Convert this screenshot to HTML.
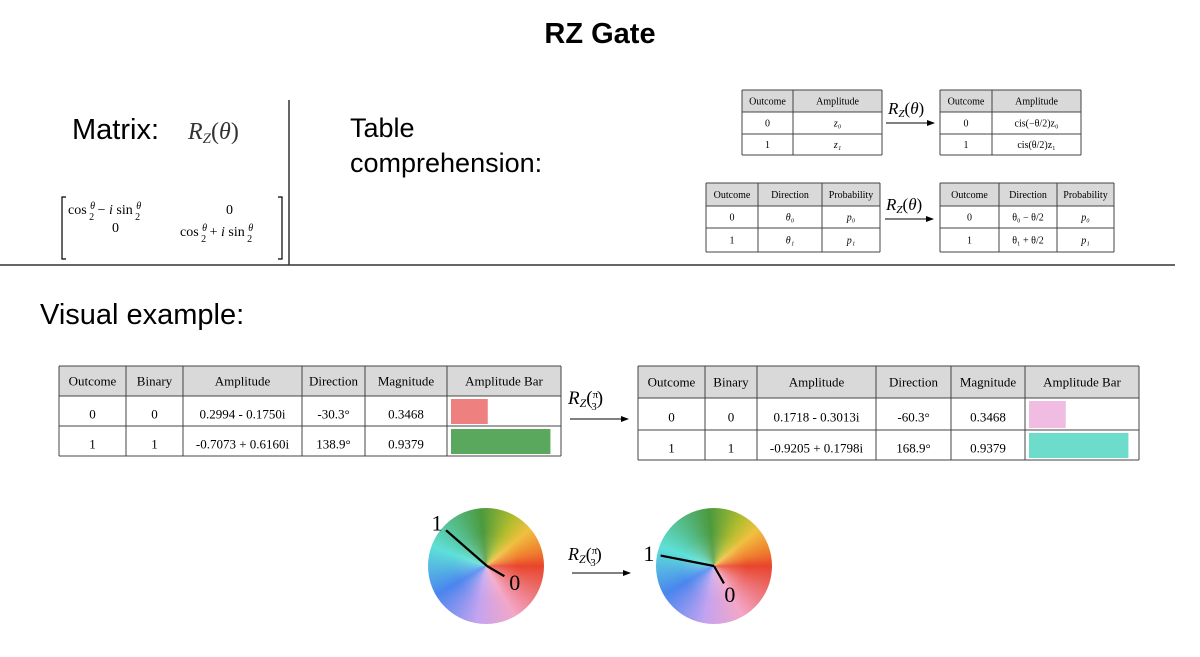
<!DOCTYPE html>
<html><head><meta charset="utf-8"><style>
body{margin:0;background:#fff;}
svg{display:block;font-family:"Liberation Serif",serif;}
.sans{font-family:"Liberation Sans",sans-serif;}
</style></head><body>
<svg id="s" width="1200" height="657" viewBox="0 0 1200 657">
<defs>
<marker id="ah" markerWidth="8" markerHeight="6" refX="7" refY="3" orient="auto"><path d="M0,0 L8,3 L0,6 z" fill="#000"/></marker>
</defs>
<text class="sans" x="600" y="43" font-size="29" font-weight="bold" text-anchor="middle">RZ Gate</text>
<text class="sans" x="72" y="139" font-size="29">Matrix:</text>
<text x="188" y="139" font-size="24" font-style="italic" fill="#333">R<tspan font-size="15" dy="4">Z</tspan><tspan dy="-4" font-style="normal">(</tspan>θ<tspan font-style="normal">)</tspan></text>
<g font-size="14">
<path d="M66,197 h-4 v62 h4" fill="none" stroke="#000" stroke-width="1.2"/>
<path d="M278,197 h4 v62 h-4" fill="none" stroke="#000" stroke-width="1.2"/>
<text x="68" y="214">cos <tspan font-size="10" font-style="italic" dy="-5">θ</tspan><tspan font-size="10" dx="-6" dy="11">2</tspan><tspan dy="-6"> − </tspan><tspan font-style="italic">i</tspan> sin <tspan font-size="10" font-style="italic" dy="-5">θ</tspan><tspan font-size="10" dx="-6" dy="11">2</tspan></text>
<text x="112" y="232">0</text>
<text x="226" y="214">0</text>
<text x="180" y="236">cos <tspan font-size="10" font-style="italic" dy="-5">θ</tspan><tspan font-size="10" dx="-6" dy="11">2</tspan><tspan dy="-6"> + </tspan><tspan font-style="italic">i</tspan> sin <tspan font-size="10" font-style="italic" dy="-5">θ</tspan><tspan font-size="10" dx="-6" dy="11">2</tspan></text>
</g>
<line x1="289" y1="100" x2="289" y2="265" stroke="#333" stroke-width="1.5"/>
<line x1="0" y1="265" x2="1175" y2="265" stroke="#333" stroke-width="1.5"/>
<text class="sans" x="350" y="137" font-size="27">Table</text>
<text class="sans" x="350" y="172" font-size="27">comprehension:</text>
<text class="sans" x="40" y="324" font-size="29">Visual example:</text>
<g id="tables"></g>
<g id="arrows" font-size="17" font-style="italic">
<g><text x="888" y="114">R<tspan font-size="11" dy="3">Z</tspan><tspan dy="-3" font-style="normal">(</tspan>θ<tspan font-style="normal">)</tspan></text><line x1="886" y1="123" x2="934" y2="123" stroke="#000" marker-end="url(#ah)"/></g>
<g><text x="886" y="210">R<tspan font-size="11" dy="3">Z</tspan><tspan dy="-3" font-style="normal">(</tspan>θ<tspan font-style="normal">)</tspan></text><line x1="885" y1="219" x2="933" y2="219" stroke="#000" marker-end="url(#ah)"/></g>
<g><text x="568" y="404" font-size="19">R<tspan font-size="12" dy="3">Z</tspan><tspan dy="-3" font-style="normal">(</tspan><tspan font-size="11" font-style="normal" dy="-6">π</tspan><tspan font-size="11" font-style="normal" dx="-7" dy="12">3</tspan><tspan dy="-6" font-style="normal">)</tspan></text><line x1="570" y1="419" x2="628" y2="419" stroke="#000" marker-end="url(#ah)"/></g>
<g><text x="568" y="560" font-size="18">R<tspan font-size="12" dy="3">Z</tspan><tspan dy="-3" font-style="normal">(</tspan><tspan font-size="11" font-style="normal" dy="-6">π</tspan><tspan font-size="11" font-style="normal" dx="-7" dy="12">3</tspan><tspan dy="-6" font-style="normal">)</tspan></text><line x1="572" y1="573" x2="630" y2="573" stroke="#000" marker-end="url(#ah)"/></g>
</g>
<foreignObject x="428" y="508" width="118" height="118"><div xmlns="http://www.w3.org/1999/xhtml" style="width:116px;height:116px;border-radius:50%;background:radial-gradient(rgba(255,255,255,.2),rgba(255,255,255,0) 40%),conic-gradient(from 90deg,#e8452c,#f3a7c8 60deg,#c3a3f0 100deg,#4a85ee 150deg,#5ee0d8 200deg,#4c9a3e 265deg,#b3bd2e 300deg,#f0c040 320deg,#ef7d2e 345deg,#e8452c)"></div></foreignObject>
<foreignObject x="656" y="508" width="118" height="118"><div xmlns="http://www.w3.org/1999/xhtml" style="width:116px;height:116px;border-radius:50%;background:radial-gradient(rgba(255,255,255,.2),rgba(255,255,255,0) 40%),conic-gradient(from 90deg,#e8452c,#f3a7c8 60deg,#c3a3f0 100deg,#4a85ee 150deg,#5ee0d8 200deg,#4c9a3e 265deg,#b3bd2e 300deg,#f0c040 320deg,#ef7d2e 345deg,#e8452c)"></div></foreignObject>
<g id="needles" font-size="22"></g>
</svg>
<script>
const outcomes=["0","1"];
const binary=["0","1"];
const ampBefore=["0.2994 - 0.1750i","-0.7073 + 0.6160i"];
const ampAfter=["0.1718 - 0.3013i","-0.9205 + 0.1798i"];
const dirBefore=[-30.3,138.9];
const dirAfter=[-60.3,168.9];
const magnitudes=[0.3468,0.9379];
const barColorsBefore=["#ef8080","#59a85e"];
const barColorsAfter=["#f0bce2","#6ddccb"];
const NS="http://www.w3.org/2000/svg";
const T=document.getElementById('tables');
function el(tag,attrs,parent,txt){const e=document.createElementNS(NS,tag);for(const k in attrs)e.setAttribute(k,attrs[k]);if(txt!==undefined)e.textContent=txt;parent.appendChild(e);return e;}
function table(name,xs,ys,header,rows,fs,italicCols){
  const g=el('g',{},T);
  
  
  const x0=xs[0],x1=xs[xs.length-1];
  el('rect',{x:x0,y:ys[0],width:x1-x0,height:ys[1]-ys[0],fill:'#d9d9d9'},g);
  ys.forEach(y=>el('line',{x1:x0,x2:x1,y1:y,y2:y,stroke:'#444','stroke-width':1},g));
  xs.forEach(x=>el('line',{x1:x,x2:x,y1:ys[0],y2:ys[ys.length-1],stroke:'#444','stroke-width':1},g));
  header.forEach((h,i)=>{const t=el('text',{x:(xs[i]+xs[i+1])/2,y:(ys[0]+ys[1])/2+fs*0.35,'text-anchor':'middle','font-size':fs},g,h);
    
    });
  rows.forEach((r,ri)=>r.forEach((c,i)=>{if(c===null)return;const t=el('text',{x:(xs[i]+xs[i+1])/2,y:(ys[ri+1]+ys[ri+2])/2+fs*0.35+(fs>12?3:0),'text-anchor':'middle','font-size':fs,'font-style':(italicCols||[]).includes(i)?'italic':'normal'},g,c);
    
    }));
  return g;
}
const fmt=d=>d.toFixed(1)+'°';
function exTable(name,xs,ys,amps,dirs,colors){
  const rows=outcomes.map((o,i)=>[o,binary[i],amps[i],fmt(dirs[i]),magnitudes[i].toFixed(4),null]);
  const g=table(name,xs,ys,["Outcome","Binary","Amplitude","Direction","Magnitude","Amplitude Bar"],rows,13);
  const bx=xs[5]+4,bw=(xs[6]-xs[5]-8);
  magnitudes.forEach((m,i)=>{const r=el('rect',{x:bx,y:ys[i+1]+3,width:m*bw,height:ys[i+2]-ys[i+1]-5,fill:colors[i]},g);
    
    });
}
exTable('example-table-before',[59,126,183,302,365,447,561],[366,396,426,456],ampBefore,dirBefore,barColorsBefore);
exTable('example-table-after',[638,705,757,876,951,1025,1139],[366,398,430,460],ampAfter,dirAfter,barColorsAfter);
table('amplitude-table-before',[742,793,882],[90,112,134,155],["Outcome","Amplitude"],[["0","z₀"],["1","z₁"]],10,[1]);
table('amplitude-table-after',[940,992,1081],[90,112,134,155],["Outcome","Amplitude"],[["0","cis(−θ/2)z₀"],["1","cis(θ/2)z₁"]],10);
table('probability-table-before',[706,758,822,880],[183,206,228,252],["Outcome","Direction","Probability"],[["0","θ₀","p₀"],["1","θ₁","p₁"]],10,[1,2]);
table('probability-table-after',[940,999,1057,1114],[183,206,228,252],["Outcome","Direction","Probability"],[["0","θ₀ − θ/2","p₀"],["1","θ₁ + θ/2","p₁"]],10,[2]);
const N=document.getElementById('needles');
function needles(name,cx,cy,R,dirs){
  const g=el('g',{},N);
  
  
  dirs.forEach((d,i)=>{const a=d*Math.PI/180,L=magnitudes[i]*R;
    const x=cx+L*Math.cos(a),y=cy-L*Math.sin(a);
    const ln=el('line',{x1:cx,y1:cy,x2:x,y2:y,stroke:'#000','stroke-width':2.2},g);
    
    
    const lx=cx+(L+12)*Math.cos(a),ly=cy-(L+12)*Math.sin(a)+8;
    const t=el('text',{x:lx,y:ly,'text-anchor':'middle'},g,outcomes[i]);
    
    });
}
needles('left-wheel-needles',487,566,58,dirBefore);
needles('right-wheel-needles',714,566,58,dirAfter);
</script>
</body></html>
